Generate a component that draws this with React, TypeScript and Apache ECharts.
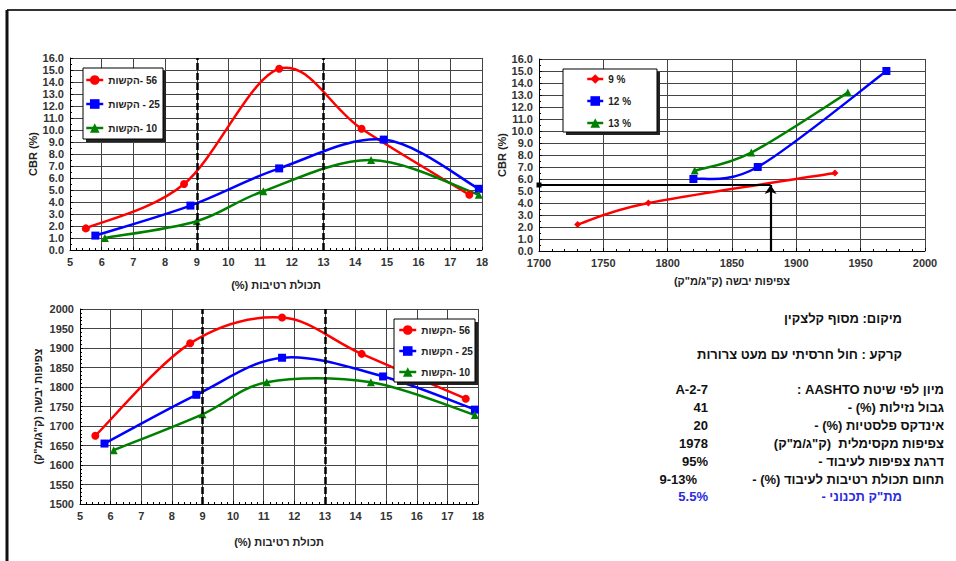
import React, { useEffect, useRef } from 'react';
import * as echarts from 'echarts';

// ---------- DATA ----------
// Compaction curves (moisture % vs CBR and dry density) for 56 / 25 / 10 blows
const moisture56 = [5.5, 8.6, 11.6, 14.2, 17.6];
const cbr56 = [1.8, 5.5, 15.1, 10.1, 4.6];
const density56 = [1675, 1912, 1978, 1885, 1770];

const moisture25 = [5.8, 8.8, 11.6, 14.9, 17.9];
const cbr25 = [1.2, 3.7, 6.8, 9.2, 5.1];
const density25 = [1655, 1780, 1875, 1827, 1742];

const moisture10 = [6.1, 9.0, 11.1, 14.5, 17.9];
const cbr10 = [1.0, 2.4, 4.9, 7.5, 4.6];
const density10 = [1638, 1730, 1812, 1812, 1728];

// CBR vs dry density for 9 / 12 / 13 % moisture
const dens9 = [1730, 1785, 1930];
const cbrAt9 = [2.2, 4.0, 6.5];
const dens12 = [1820, 1870, 1970];
const cbrAt12 = [6.0, 7.0, 15.0];
const dens13 = [1821, 1865, 1940];
const cbrAt13 = [6.7, 8.2, 13.2];

// working moisture range (dashed lines) and design reading
const workRange = [9, 13];
const designDensity = 1880;
const designCBR = 5.5;
const densityAxisStart = 1700;

// legend labels
const blowNames = ['הקשות\u200E- 56', 'הקשות\u200E - 25', 'הקשות\u200E- 10'];
const moistNames = ['9 %', '12 %', '13 %'];

// info table
const infoTitle = 'מיקום: מסוף קלצקין';
const infoSoil = 'קרקע : חול חרסיתי עם מעט צרורות';
const infoLabels = [
  'מיון לפי שיטת AASHTO :',
  'גבול נזילות (%) -',
  'אינדקס פלסטיות (%) -',
  'צפיפות מקסימלית  (ק"ג/מ"ק)',
  'דרגת צפיפות לעיבוד -',
  'תחום תכולת רטיבות לעיבוד (%) -',
];
const infoValues = ['A-2-7', '41', '20', '1978', '95%', '9-13%'];
const designLabel = 'מת"ק תכנוני -';
const designValue = '5.5%';

// ---------- STYLE ----------
const FONT = '"Liberation Sans", Arial, Helvetica, sans-serif';
const RED = '#ff0000';
const BLUE = '#0000ff';
const GREEN = '#008000';
const rtl = (s: string) => '\u202B' + s + '\u202C';
const zip = (a: number[], b: number[]) => a.map((v, i) => [v, b[i]]);

const labelStyle = { fontSize: 11, fontWeight: 'bold' as const, color: '#333', fontFamily: FONT };
const nameStyle = { fontSize: 11, fontWeight: 'bold' as const, color: '#222', fontFamily: FONT };

function axis(gridIndex: number, min: number, max: number, interval: number, extra: any) {
  return {
    type: 'value',
    gridIndex,
    min,
    max,
    interval,
    axisLine: { show: true, onZero: false, lineStyle: { color: '#000', width: 1 } },
    axisTick: { show: true, inside: true, length: 3, lineStyle: { color: '#000' } },
    minorTick: { show: true, splitNumber: 5, length: 2, lineStyle: { color: '#000' } },
    splitLine: { show: true, lineStyle: { color: '#444', width: 1 } },
    axisLabel: { ...labelStyle, margin: 6, formatter: (v: number) => String(v) },
    nameLocation: 'middle',
    nameTextStyle: nameStyle,
    ...extra,
  };
}

// markers (and legend entries); the visible curve is drawn by splineSeries
function markerSeries(name: string, xi: number, data: number[][], color: string, symbol: string, size: number, extra: any = {}) {
  return {
    type: 'line',
    name,
    xAxisIndex: xi,
    yAxisIndex: xi,
    data,
    symbol,
    symbolSize: size,
    lineStyle: { color, width: 2.5, opacity: 0 },
    itemStyle: { color },
    z: 3,
    ...extra,
  };
}

// Excel-like smoothed curve (Catmull-Rom bezier segments through the data points)
function splineSeries(xi: number, xs: number[], ys: number[], color: string) {
  const n = xs.length;
  return {
    type: 'custom',
    xAxisIndex: xi,
    yAxisIndex: xi,
    data: zip(xs, ys),
    silent: true,
    clip: false,
    z: 2,
    renderItem: (params: any, api: any) => {
      const i = params.dataIndex;
      if (i >= n - 1) return { type: 'group', children: [] };
      const P = (k: number) => {
        const j = Math.max(0, Math.min(n - 1, k));
        return api.coord([xs[j], ys[j]]);
      };
      const p0 = P(i - 1), p1 = P(i), p2 = P(i + 1), p3 = P(i + 2);
      const t = 1 / 6;
      return {
        type: 'bezierCurve',
        shape: {
          x1: p1[0], y1: p1[1], x2: p2[0], y2: p2[1],
          cpx1: p1[0] + (p2[0] - p0[0]) * t,
          cpy1: p1[1] + (p2[1] - p0[1]) * t,
          cpx2: p2[0] - (p3[0] - p1[0]) * t,
          cpy2: p2[1] - (p3[1] - p1[1]) * t,
        },
        style: { stroke: color, lineWidth: 2.5, fill: null },
      };
    },
  };
}

const dashedMarks = {
  silent: true,
  symbol: ['none', 'none'],
  label: { show: false },
  lineStyle: { color: '#000', type: [7, 3], width: 2.5, opacity: 1 },
  data: workRange.map((v) => ({ xAxis: v })),
};

function legendBox(x: number, y: number, w: number, h: number) {
  return [
    { type: 'rect', z: 10, shape: { x: x + 3, y: y + 3, width: w, height: h }, style: { fill: '#222' } },
    { type: 'rect', z: 11, shape: { x, y, width: w, height: h }, style: { fill: '#fff', stroke: '#000', lineWidth: 1 } },
  ];
}

function txt(x: number, y: number, text: string, color = '#111', align = 'right') {
  return {
    type: 'text',
    x,
    y,
    z: 12,
    style: {
      text,
      fill: color,
      font: `bold 13px ${FONT}`,
      align,
      verticalAlign: 'middle',
      textAlign: align,
      textVerticalAlign: 'middle',
    },
  };
}

function legend(names: string[], left: number, top: number, gap: number, width: number) {
  return {
    data: names,
    orient: 'vertical',
    left,
    top,
    itemWidth: width,
    itemHeight: 12,
    itemGap: gap,
    padding: 0,
    selectedMode: false,
    z: 20,
    lineStyle: { opacity: 1, width: 2.5 },
    textStyle: { fontSize: 10, fontWeight: 'bold', fontFamily: FONT, color: '#222', lineHeight: 12 },
  };
}

const rowYs = [389, 407, 425, 443, 461, 479];

const option: any = {
  animation: false,
  backgroundColor: '#fff',
  grid: [
    { left: 70, top: 58, width: 412, height: 192 },
    { left: 539, top: 59, width: 386, height: 192 },
    { left: 80, top: 309, width: 398, height: 195 },
  ],
  xAxis: [
    axis(0, 5, 18, 1, { name: rtl('תכולת רטיבות (%)'), nameGap: 29 }),
    axis(1, 1700, 2000, 50, { name: rtl('צפיפות יבשה (ק"ג/מ"ק)'), nameGap: 24 }),
    axis(2, 5, 18, 1, { name: rtl('תכולת רטיבות (%)'), nameGap: 32 }),
  ],
  yAxis: [
    axis(0, 0, 16, 1, {
      name: 'CBR (%)', nameGap: 25, nameRotate: 90,
      minorTick: { show: true, splitNumber: 2, length: 2, lineStyle: { color: '#000' } },
      axisLabel: { ...labelStyle, margin: 6, formatter: (v: number) => v.toFixed(1) },
    }),
    axis(1, 0, 16, 1, {
      name: 'CBR (%)', nameGap: 27, nameRotate: 90,
      minorTick: { show: true, splitNumber: 2, length: 2, lineStyle: { color: '#000' } },
      axisLabel: { ...labelStyle, margin: 6, formatter: (v: number) => v.toFixed(1) },
    }),
    axis(2, 1500, 2000, 50, {
      name: rtl('צפיפות יבשה (ק"ג/מ"ק)'), nameGap: 37, nameRotate: 90,
    }),
  ],
  legend: [
    legend(blowNames, 85, 74, 12, 17),
    legend(moistNames, 586, 73, 10, 16),
    legend(blowNames, 398, 324, 9, 17),
  ],
  series: [
    splineSeries(0, moisture56, cbr56, RED),
    splineSeries(0, moisture25, cbr25, BLUE),
    splineSeries(0, moisture10, cbr10, GREEN),
    markerSeries(blowNames[0], 0, zip(moisture56, cbr56), RED, 'circle', 8, { markLine: dashedMarks }),
    markerSeries(blowNames[1], 0, zip(moisture25, cbr25), BLUE, 'rect', 8),
    markerSeries(blowNames[2], 0, zip(moisture10, cbr10), GREEN, 'triangle', 8),

    splineSeries(1, dens9, cbrAt9, RED),
    splineSeries(1, dens12, cbrAt12, BLUE),
    splineSeries(1, dens13, cbrAt13, GREEN),
    markerSeries(moistNames[0], 1, zip(dens9, cbrAt9), RED, 'diamond', 7, {
      markLine: {
        silent: true,
        label: { show: false },
        lineStyle: { color: '#000', type: 'solid', width: 2.2, opacity: 1 },
        data: [
          [
            { coord: [designDensity, 0], symbol: 'none' },
            { coord: [designDensity, designCBR], symbol: 'arrow', symbolSize: 9 },
          ],
          [
            { coord: [densityAxisStart, designCBR], symbol: 'rect', symbolSize: 5 },
            { coord: [designDensity, designCBR], symbol: 'none' },
          ],
        ],
      },
    }),
    markerSeries(moistNames[1], 1, zip(dens12, cbrAt12), BLUE, 'rect', 8),
    markerSeries(moistNames[2], 1, zip(dens13, cbrAt13), GREEN, 'triangle', 8),

    splineSeries(2, moisture56, density56, RED),
    splineSeries(2, moisture25, density25, BLUE),
    splineSeries(2, moisture10, density10, GREEN),
    markerSeries(blowNames[0], 2, zip(moisture56, density56), RED, 'circle', 8, { markLine: dashedMarks }),
    markerSeries(blowNames[1], 2, zip(moisture25, density25), BLUE, 'rect', 8),
    markerSeries(blowNames[2], 2, zip(moisture10, density10), GREEN, 'triangle', 8),
  ],
  graphic: [
    { type: 'line', z: 1, shape: { x1: 7, y1: 10, x2: 956, y2: 10 }, style: { stroke: '#333', lineWidth: 2 } },
    { type: 'line', z: 1, shape: { x1: 7, y1: 10, x2: 7, y2: 561 }, style: { stroke: '#111', lineWidth: 3 } },
    ...legendBox(83, 68, 80, 71),
    ...legendBox(563, 69, 94, 63),
    ...legendBox(394, 319, 81, 63),
    txt(902, 318, rtl(infoTitle)),
    txt(902, 354, rtl(infoSoil)),
    ...infoLabels.map((t, i) => txt(944, rowYs[i], rtl(t))),
    ...infoValues.map((t, i) => txt(i === 5 ? 697 : 708, rowYs[i], t)),
    txt(902, 496, rtl(designLabel), '#2a2ae0'),
    txt(708, 496, designValue, '#2a2ae0'),
  ],
};

export default function App() {
  const ref = useRef<HTMLDivElement>(null);
  useEffect(() => {
    const chart = echarts.init(ref.current!, null, { renderer: 'svg' });
    chart.setOption(option);
    return () => chart.dispose();
  }, []);
  return (
    <div
      ref={ref}
      style={{ position: 'fixed', left: 0, top: 0, width: 956, height: 561, background: '#fff' }}
    />
  );
}
